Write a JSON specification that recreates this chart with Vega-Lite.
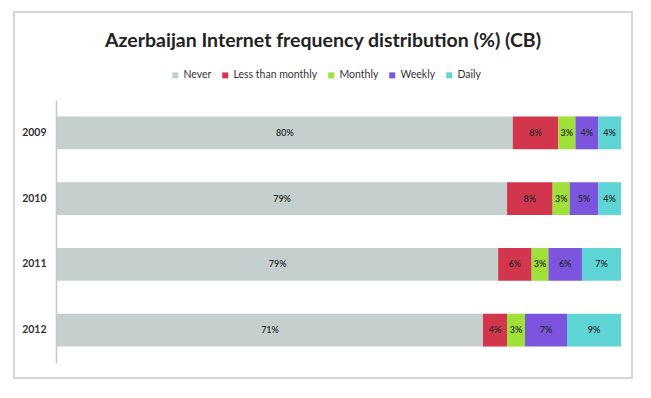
{
  "$schema": "https://vega.github.io/schema/vega-lite/v6.json",
  "width": 618,
  "height": 366,
  "autosize": {"type": "none"},
  "padding": {"left": 14, "top": 12, "right": 19, "bottom": 20},
  "background": "white",
  "config": {
    "view": {"stroke": "#d6d6d6", "strokeWidth": 2},
    "font": "Lato"
  },
  "title": {
    "text": "Azerbaijan Internet frequency distribution (%) (CB)",
    "font": "Lato",
    "fontSize": 19.5,
    "fontWeight": "bold",
    "color": "#222222",
    "anchor": "middle",
    "frame": "group",
    "offset": -39
  },
  "data": {
    "values": [
      {"year": "2009", "category": "Never", "value": 80},
      {"year": "2009", "category": "Less than monthly", "value": 8},
      {"year": "2009", "category": "Monthly", "value": 3},
      {"year": "2009", "category": "Weekly", "value": 4},
      {"year": "2009", "category": "Daily", "value": 4},
      {"year": "2010", "category": "Never", "value": 79},
      {"year": "2010", "category": "Less than monthly", "value": 8},
      {"year": "2010", "category": "Monthly", "value": 3},
      {"year": "2010", "category": "Weekly", "value": 5},
      {"year": "2010", "category": "Daily", "value": 4},
      {"year": "2011", "category": "Never", "value": 79},
      {"year": "2011", "category": "Less than monthly", "value": 6},
      {"year": "2011", "category": "Monthly", "value": 3},
      {"year": "2011", "category": "Weekly", "value": 6},
      {"year": "2011", "category": "Daily", "value": 7},
      {"year": "2012", "category": "Never", "value": 71},
      {"year": "2012", "category": "Less than monthly", "value": 4},
      {"year": "2012", "category": "Monthly", "value": 3},
      {"year": "2012", "category": "Weekly", "value": 7},
      {"year": "2012", "category": "Daily", "value": 9}
    ]
  },
  "transform": [
    {"calculate": "indexof(['Never', 'Less than monthly', 'Monthly', 'Weekly', 'Daily'], datum.category)", "as": "ord"},
    {"stack": "value", "groupby": ["year"], "sort": [{"field": "ord", "order": "ascending"}], "offset": "normalize", "as": ["x0", "x1"]},
    {"calculate": "(datum.x0 + datum.x1) / 2", "as": "xmid"}
  ],
  "encoding": {
    "y": {
      "field": "year",
      "type": "nominal",
      "sort": ["2009", "2010", "2011", "2012"],
      "scale": {"range": [88, 351], "paddingInner": 0.5, "paddingOuter": 0.25},
      "axis": {
        "title": null,
        "offset": -42,
        "ticks": false,
        "labelPadding": 10,
        "labelFontSize": 10.5,
        "labelFontWeight": "bold",
        "labelColor": "#333333",
        "domainColor": "#c8c8c8",
        "domainWidth": 1.5
      }
    }
  },
  "layer": [
    {
      "mark": {"type": "bar"},
      "encoding": {
        "x": {
          "field": "x0",
          "type": "quantitative",
          "scale": {"domain": [0, 1], "range": [43, 607]},
          "axis": null
        },
        "x2": {"field": "x1"},
        "color": {
          "field": "category",
          "type": "nominal",
          "sort": ["Never", "Less than monthly", "Monthly", "Weekly", "Daily"],
          "scale": {
            "domain": ["Never", "Less than monthly", "Monthly", "Weekly", "Daily"],
            "range": ["#c5cfce", "#d2364d", "#9fe03b", "#7c55de", "#5fd4d4"]
          },
          "legend": {
            "orient": "none",
            "legendX": 156,
            "legendY": 58,
            "direction": "horizontal",
            "title": null,
            "symbolType": "square",
            "symbolSize": 36,
            "symbolStrokeWidth": 0,
            "labelFontSize": 10.5,
            "labelColor": "#333333",
            "columnPadding": 8,
            "labelOffset": 3
          }
        }
      }
    },
    {
      "mark": {"type": "text", "fontSize": 9, "fontWeight": 600, "color": "#2a2a2a", "text": {"expr": "datum.value + '%'"}},
      "encoding": {
        "x": {
          "field": "xmid",
          "type": "quantitative",
          "scale": {"domain": [0, 1], "range": [43, 607]},
          "axis": null
        }
      }
    }
  ]
}
